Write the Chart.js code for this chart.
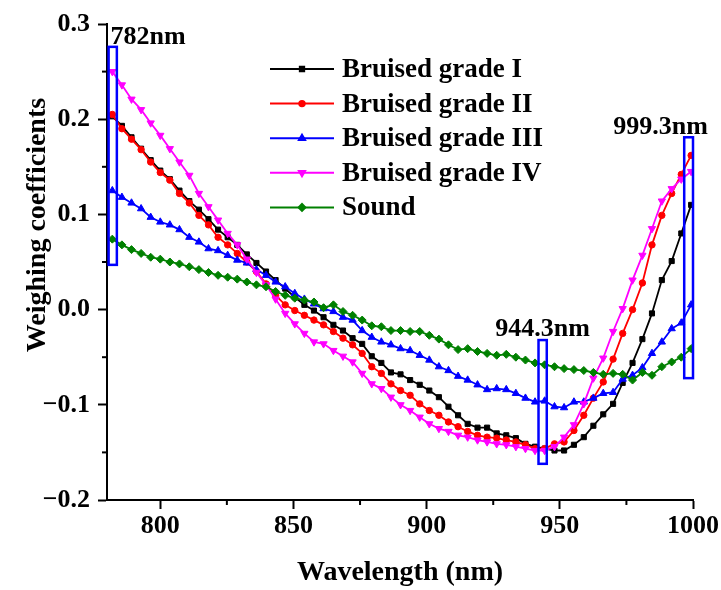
<!DOCTYPE html>
<html>
<head>
<meta charset="utf-8">
<title>Weighing coefficients</title>
<script src="https://cdn.jsdelivr.net/npm/chart.js@4.4.1/dist/chart.umd.min.js"></script>
<style>
  html, body { margin: 0; padding: 0; background: #fff; }
  canvas { display: block; }
</style>
</head>
<body>
<canvas id="weightChart" width="721" height="590"></canvas>
<script>
// wavelengths (nm) of the plotted bands
const wavelengths = [
  782.0, 785.6, 789.2, 792.8, 796.4, 800.0, 803.6, 807.2, 810.9, 814.5,
  818.1, 821.7, 825.3, 828.9, 832.5, 836.1, 839.7, 843.3, 846.9, 850.5,
  854.1, 857.7, 861.3, 865.0, 868.6, 872.2, 875.8, 879.4, 883.0, 886.6,
  890.2, 893.8, 897.4, 901.0, 904.6, 908.2, 911.8, 915.4, 919.1, 922.7,
  926.3, 929.9, 933.5, 937.1, 940.7, 944.3, 948.0, 951.6, 955.3, 959.0,
  962.6, 966.3, 970.0, 973.6, 977.3, 981.0, 984.6, 988.3, 992.0, 995.6,
  999.3
];

const gradeI = [
  0.203, 0.193, 0.181, 0.169, 0.157, 0.146, 0.137, 0.125, 0.114, 0.105,
  0.095, 0.084, 0.076, 0.068, 0.058, 0.049, 0.040, 0.031, 0.022, 0.013,
  0.005, -0.001, -0.008, -0.016, -0.022, -0.030, -0.036, -0.049, -0.056, -0.066,
  -0.068, -0.074, -0.079, -0.085, -0.092, -0.102, -0.111, -0.120, -0.124, -0.124,
  -0.130, -0.132, -0.135, -0.141, -0.144, -0.146, -0.148, -0.148, -0.142, -0.134,
  -0.122, -0.110, -0.099, -0.077, -0.056, -0.031, -0.004, 0.031, 0.051, 0.080,
  0.110
];

const gradeII = [
  0.205, 0.190, 0.179, 0.168, 0.155, 0.144, 0.136, 0.122, 0.112, 0.099,
  0.089, 0.076, 0.068, 0.059, 0.050, 0.040, 0.027, 0.015, 0.005, -0.001,
  -0.006, -0.011, -0.016, -0.023, -0.030, -0.037, -0.046, -0.060, -0.067, -0.078,
  -0.085, -0.090, -0.099, -0.106, -0.111, -0.118, -0.123, -0.128, -0.132, -0.134,
  -0.135, -0.137, -0.139, -0.142, -0.146, -0.146, -0.141, -0.139, -0.127, -0.111,
  -0.093, -0.076, -0.052, -0.025, 0.000, 0.028, 0.068, 0.099, 0.122, 0.142,
  0.162
];

const gradeIII = [
  0.125, 0.118, 0.112, 0.106, 0.097, 0.092, 0.089, 0.084, 0.076, 0.071,
  0.064, 0.062, 0.057, 0.052, 0.049, 0.042, 0.036, 0.029, 0.024, 0.017,
  0.011, 0.006, 0.001, -0.002, -0.008, -0.011, -0.022, -0.029, -0.034, -0.037,
  -0.041, -0.043, -0.048, -0.053, -0.060, -0.064, -0.070, -0.074, -0.079, -0.084,
  -0.083, -0.084, -0.088, -0.093, -0.097, -0.096, -0.102, -0.103, -0.097, -0.097,
  -0.093, -0.088, -0.087, -0.073, -0.069, -0.061, -0.046, -0.034, -0.020, -0.014,
  0.005
];

const gradeIV = [
  0.250, 0.236, 0.221, 0.210, 0.196, 0.183, 0.169, 0.155, 0.141, 0.122,
  0.108, 0.094, 0.080, 0.068, 0.053, 0.039, 0.026, 0.011, -0.004, -0.015,
  -0.025, -0.034, -0.036, -0.043, -0.049, -0.055, -0.067, -0.078, -0.083, -0.092,
  -0.100, -0.106, -0.113, -0.120, -0.125, -0.128, -0.132, -0.134, -0.137, -0.139,
  -0.141, -0.142, -0.144, -0.146, -0.148, -0.148, -0.144, -0.134, -0.121, -0.099,
  -0.072, -0.051, -0.023, 0.001, 0.031, 0.057, 0.085, 0.114, 0.127, 0.137,
  0.145
];

const sound = [
  0.074, 0.068, 0.063, 0.059, 0.055, 0.053, 0.050, 0.048, 0.045, 0.042,
  0.039, 0.036, 0.034, 0.032, 0.029, 0.026, 0.024, 0.019, 0.015, 0.012,
  0.010, 0.008, 0.002, 0.005, -0.002, -0.006, -0.011, -0.017, -0.018, -0.022,
  -0.022, -0.023, -0.023, -0.027, -0.031, -0.037, -0.042, -0.041, -0.044, -0.046,
  -0.048, -0.047, -0.050, -0.053, -0.056, -0.058, -0.060, -0.062, -0.063, -0.064,
  -0.066, -0.068, -0.067, -0.068, -0.074, -0.066, -0.069, -0.060, -0.055, -0.050,
  -0.041
];

const seriesNames = ['Bruised grade I', 'Bruised grade II', 'Bruised grade III', 'Bruised grade IV', 'Sound'];

// highlighted bands: [label, xFrom, xTo, yTop, yBottom]
const bands = [
  ['782nm', 780.6, 783.7, 0.276, 0.047],
  ['944.3nm', 942.0, 945.1, -0.032, -0.162],
  ['999.3nm', 996.7, 1000.0, 0.181, -0.072]
];

const FONT = "'Liberation Serif', 'Times New Roman', serif";

function toPoints(values) {
  return values.map((v, i) => ({ x: wavelengths[i], y: v }));
}

const styles = [
  { color: '#000000', pointStyle: 'rect', radius: 3.6, rotation: 0 },
  { color: '#ff0000', pointStyle: 'circle', radius: 3.2, rotation: 0 },
  { color: '#0000ff', pointStyle: 'triangle', radius: 4.2, rotation: 0 },
  { color: '#ff00ff', pointStyle: 'triangle', radius: 4.2, rotation: 180 },
  { color: '#008000', pointStyle: 'rectRot', radius: 4, rotation: 0 }
];

const allSeries = [gradeI, gradeII, gradeIII, gradeIV, sound];

const datasets = allSeries.map((vals, i) => ({
  label: seriesNames[i],
  data: toPoints(vals),
  borderColor: styles[i].color,
  backgroundColor: styles[i].color,
  borderWidth: 1.8,
  pointStyle: styles[i].pointStyle,
  pointRadius: styles[i].radius,
  pointRotation: styles[i].rotation,
  pointBorderWidth: 1,
  pointBackgroundColor: styles[i].color,
  pointBorderColor: styles[i].color,
  tension: 0,
  order: allSeries.length - i
}));

// minor ticks halfway between the labelled ones
const minorTicks = {
  id: 'minorTicks',
  afterDraw(chart) {
    const ctx = chart.ctx;
    ctx.save();
    ctx.strokeStyle = '#000';
    ctx.lineWidth = 2;
    const xs = chart.scales.x, ys = chart.scales.y;
    const xt = xs.ticks.map(t => t.value);
    for (let i = 0; i < xt.length - 1; i++) {
      const px = xs.getPixelForValue((xt[i] + xt[i + 1]) / 2);
      ctx.beginPath();
      ctx.moveTo(px, chart.chartArea.bottom);
      ctx.lineTo(px, chart.chartArea.bottom + 5);
      ctx.stroke();
    }
    const yt = ys.ticks.map(t => t.value);
    for (let i = 0; i < yt.length - 1; i++) {
      const py = ys.getPixelForValue((yt[i] + yt[i + 1]) / 2);
      ctx.beginPath();
      ctx.moveTo(chart.chartArea.left, py);
      ctx.lineTo(chart.chartArea.left - 5, py);
      ctx.stroke();
    }
    ctx.restore();
  }
};

// y title sits a bit above the middle of the axis, so it is drawn here
const yTitle = {
  id: 'yTitle',
  afterDraw(chart) {
    const ctx = chart.ctx;
    ctx.save();
    ctx.translate(38, 225);
    ctx.rotate(-Math.PI / 2);
    ctx.font = 'bold 28px ' + FONT;
    ctx.fillStyle = '#000';
    ctx.textAlign = 'center';
    ctx.textBaseline = 'middle';
    ctx.fillText('Weighing coefficients', 0, 0);
    ctx.restore();
  }
};

// blue boxes with wavelength labels
const bandBoxes = {
  id: 'bandBoxes',
  afterDatasetsDraw(chart) {
    const ctx = chart.ctx;
    const xs = chart.scales.x, ys = chart.scales.y;
    ctx.save();
    ctx.strokeStyle = '#0000ff';
    ctx.lineWidth = 2.5;
    ctx.font = 'bold 26px ' + FONT;
    ctx.fillStyle = '#000';
    ctx.textBaseline = 'alphabetic';
    bands.forEach(([label, x0, x1, y0, y1], i) => {
      const left = xs.getPixelForValue(x0);
      const right = xs.getPixelForValue(x1);
      const top = ys.getPixelForValue(y0);
      const bottom = ys.getPixelForValue(y1);
      ctx.strokeRect(left, top, right - left, bottom - top);
      const mid = (left + right) / 2;
      if (i === 0) {
        ctx.textAlign = 'left';
        ctx.fillText(label, left + 2, top - 3);
      } else if (i === 1) {
        ctx.textAlign = 'center';
        ctx.fillText(label, mid, top - 4);
      } else {
        ctx.textAlign = 'center';
        ctx.fillText(label, mid - 28, top - 3);
      }
    });
    ctx.restore();
  }
};

// legend drawn as line + marker samples inside the plot
const innerLegend = {
  id: 'innerLegend',
  afterDraw(chart) {
    const ctx = chart.ctx;
    const x0 = 270, x1 = 334, textX = 342, firstY = 69, rowGap = 34.6;
    ctx.save();
    chart.data.datasets.forEach((ds, i) => {
      const y = firstY + i * rowGap;
      ctx.strokeStyle = ds.borderColor;
      ctx.lineWidth = 2;
      ctx.beginPath();
      ctx.moveTo(x0, y);
      ctx.lineTo(x1, y);
      ctx.stroke();
      ctx.fillStyle = ds.borderColor;
      Chart.helpers.drawPoint(ctx, {
        pointStyle: ds.pointStyle,
        radius: ds.pointRadius * 0.85,
        rotation: ds.pointRotation,
        borderWidth: 1
      }, (x0 + x1) / 2, y);
      ctx.fillStyle = '#000';
      ctx.font = 'bold 27px ' + FONT;
      ctx.textAlign = 'left';
      ctx.textBaseline = 'middle';
      ctx.fillText(ds.label, textX, y + 1);
    });
    ctx.restore();
  }
};

new Chart(document.getElementById('weightChart'), {
  type: 'line',
  data: { datasets },
  plugins: [minorTicks, yTitle, bandBoxes, innerLegend],
  options: {
    responsive: false,
    animation: false,
    devicePixelRatio: 1,
    layout: { padding: { left: 0, right: 28, top: 24, bottom: 0 } },
    plugins: {
      legend: { display: false },
      tooltip: { enabled: false }
    },
    scales: {
      x: {
        type: 'linear',
        min: 780,
        max: 1000,
        afterFit(scale) { scale.height = 90; },
        border: { display: true, color: '#000', width: 2 },
        grid: { drawOnChartArea: false, drawTicks: true, tickLength: 9, tickColor: '#000', tickWidth: 2 },
        ticks: {
          stepSize: 50,
          includeBounds: false,
          color: '#000',
          padding: 2,
          maxRotation: 0,
          font: { family: FONT, size: 26, weight: 'bold' },
          callback: v => String(v)
        },
        title: {
          display: true,
          text: 'Wavelength (nm)',
          color: '#000',
          padding: { top: 0, bottom: 0 },
          font: { family: FONT, size: 28, weight: 'bold' }
        }
      },
      y: {
        type: 'linear',
        min: -0.2,
        max: 0.3,
        afterFit(scale) { scale.width = 107; },
        border: { display: true, color: '#000', width: 2 },
        grid: { drawOnChartArea: false, drawTicks: true, tickLength: 9, tickColor: '#000', tickWidth: 2 },
        ticks: {
          stepSize: 0.1,
          color: '#000',
          padding: 8,
          font: { family: FONT, size: 26, weight: 'bold' },
          callback: v => (v < -1e-9 ? '\u2212' : '') + Math.abs(v).toFixed(1)
        },
        title: { display: false }
      }
    }
  }
});
</script>
</body>
</html>
